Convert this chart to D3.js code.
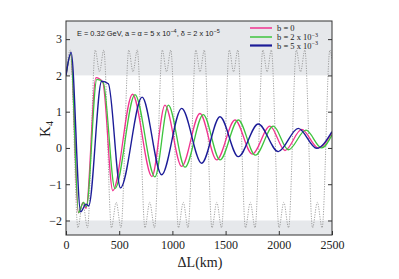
<!DOCTYPE html>
<html lang="en">
<head>
    <meta charset="UTF-8">
    <title>K4 vs baseline</title>
    <script src="https://cdnjs.cloudflare.com/ajax/libs/d3/7.8.5/d3.min.js"></script>
</head>
<style>
    body { margin: 0; background: #fff; }
    .tick text { font-family: "Liberation Serif", "Times New Roman", serif; font-size: 12px; fill: #222; }
    .tick line { stroke: #333; }
    .domain { display: none; }
</style>
<body>
    <svg id="chart" width="399" height="279"></svg>
</body>
<script>
    // values (L in km, K4)
    const xTicks = [0, 500, 1000, 1500, 2000, 2500];
    const yTicks = [-2, -1, 0, 1, 2, 3];
    const yTickLabels = ["\u22122", "\u22121", "0", "1", "2", "3"];

    // dotted grey curve: extrema only (M tops, W bottoms)
    const dottedL = [0, 40, 112, 157, 202, 275, 315, 355, 427, 472, 517, 590, 630, 670, 742, 787, 832,
        905, 945, 985, 1057, 1102, 1147, 1220, 1260, 1300, 1372, 1417, 1462, 1535, 1575, 1615,
        1687, 1732, 1777, 1850, 1890, 1930, 2002, 2047, 2092, 2165, 2205, 2245, 2317, 2362, 2407, 2480, 2500];
    const dottedK = [2.0, 2.7, -2.2, -1.5, -2.2, 2.7, 2.1, 2.7, -2.2, -1.5, -2.2, 2.7, 2.1, 2.7, -2.2, -1.5, -2.2,
        2.7, 2.1, 2.7, -2.2, -1.5, -2.2, 2.7, 2.1, 2.7, -2.2, -1.5, -2.2, 2.7, 2.1, 2.7,
        -2.2, -1.5, -2.2, 2.7, 2.1, 2.7, -2.2, -1.5, -2.2, 2.7, 2.1, 2.7, -2.2, -1.5, -2.2, 2.7, 2.45];

    // b = 0
    const pinkL = [0, 45, 116, 163, 188, 282, 345, 440, 625, 808, 930, 1087, 1259, 1416, 1588, 1750, 1917, 2058, 2215, 2371, 2500];
    const pinkK = [2.0, 2.58, -1.79, -1.5, -1.67, 1.94, 1.82, -1.18, 1.48, -0.79, 1.18, -0.51, 0.95, -0.33, 0.77, -0.17, 0.6, -0.07, 0.51, 0.0, 0.42];
    // b = 2e-3
    const greenL = [0, 45, 118, 165, 192, 290, 350, 460, 648, 836, 962, 1118, 1290, 1447, 1619, 1780, 1948, 2090, 2255, 2403, 2500];
    const greenK = [2.0, 2.58, -1.78, -1.5, -1.62, 1.89, 1.8, -1.12, 1.47, -0.8, 1.18, -0.53, 0.92, -0.33, 0.77, -0.2, 0.6, -0.05, 0.49, 0.0, 0.36];
    // b = 5e-3
    const blueL = [0, 48, 138, 188, 213, 335, 398, 512, 715, 899, 1087, 1275, 1447, 1619, 1807, 1995, 2183, 2356, 2500];
    const blueK = [2.0, 2.63, -1.76, -1.55, -1.6, 1.84, 1.77, -1.1, 1.4, -0.74, 1.09, -0.42, 0.86, -0.24, 0.66, -0.1, 0.54, -0.01, 0.45];

    const seriesNames = ["b = 0", "b = 2 x 10", "b = 5 x 10"];
    const seriesExp = ["", "\u22123", "\u22123"];
    const seriesColors = ["#f0338f", "#3ec43e", "#1c1c98"];
    const seriesWidths = [1.3, 1.3, 1.4];

    const mLeft = 66, mRight = 332, mTop = 21, mBottom = 235;
    const svg = d3.select("#chart");

    const x = d3.scaleLinear().domain([0, 2500]).range([mLeft, mRight]);
    const y = d3.scaleLinear().domain([-2.4, 3.5]).range([mBottom, mTop]);

    svg.append("clipPath").attr("id", "clip")
        .append("rect").attr("x", mLeft).attr("y", mTop).attr("width", mRight - mLeft).attr("height", mBottom - mTop);

    // grey bands outside |K4| <= 2
    svg.append("rect").attr("x", mLeft).attr("y", mTop).attr("width", mRight - mLeft)
        .attr("height", y(2) - mTop).style("fill", "#e6e8eb");
    svg.append("rect").attr("x", mLeft).attr("y", y(-2)).attr("width", mRight - mLeft)
        .attr("height", mBottom - y(-2)).style("fill", "#e6e8eb");

    const plot = svg.append("g").attr("clip-path", "url(#clip)");

    const line = d3.line().x(d => x(d[0])).y(d => y(d[1])).curve(d3.curveMonotoneX);

    plot.append("path")
        .datum(d3.zip(dottedL, dottedK))
        .attr("d", line)
        .style("fill", "none")
        .style("stroke", "#8a8a8a")
        .style("stroke-width", 0.8)
        .style("stroke-dasharray", "1.2,1.3");

    const allL = [pinkL, greenL, blueL];
    const allK = [pinkK, greenK, blueK];
    allL.forEach((Ls, i) => {
        plot.append("path")
            .datum(d3.zip(Ls, allK[i]))
            .attr("d", line)
            .style("fill", "none")
            .style("stroke", seriesColors[i])
            .style("stroke-width", seriesWidths[i]);
    });

    // axes, ticks pointing in
    svg.append("g").attr("transform", `translate(0,${mBottom})`)
        .call(d3.axisBottom(x).tickValues(xTicks).tickSizeInner(-4).tickPadding(5).tickFormat(d3.format("d")));
    svg.append("g").attr("transform", `translate(${mLeft},0)`)
        .call(d3.axisLeft(y).tickValues(yTicks).tickSizeInner(-4).tickPadding(4).tickFormat((d, i) => yTickLabels[i]));
    svg.append("g").attr("transform", `translate(${mRight},0)`)
        .call(d3.axisRight(y).tickValues(yTicks).tickSizeInner(-4).tickFormat(""));

    svg.append("rect").attr("x", mLeft).attr("y", mTop).attr("width", mRight - mLeft).attr("height", mBottom - mTop)
        .style("fill", "none").style("stroke", "#333").style("stroke-width", 1);

    // axis titles
    svg.append("text")
        .attr("x", 200).attr("y", 267)
        .attr("text-anchor", "middle")
        .style("font-family", "Liberation Serif, serif").style("font-size", "14px").style("fill", "#222")
        .text("\u0394L(km)");
    const yl = svg.append("text")
        .attr("transform", "translate(50,129) rotate(-90)")
        .attr("text-anchor", "middle")
        .style("font-family", "Liberation Serif, serif").style("font-size", "15px").style("fill", "#222");
    yl.append("tspan").text("K");
    yl.append("tspan").attr("dy", 3).style("font-size", "10px").text("4");

    // parameter note
    const note = svg.append("text")
        .attr("x", 77).attr("y", 36)
        .style("font-family", "Liberation Sans, Arial, sans-serif").style("font-size", "7.4px").style("fill", "#222");
    note.append("tspan").text("E = 0.32 GeV, a = \u03b1 = 5 x 10");
    note.append("tspan").attr("dy", -3).style("font-size", "5.5px").text("\u22124");
    note.append("tspan").attr("dy", 3).text(", \u03b4 = 2 x 10");
    note.append("tspan").attr("dy", -3).style("font-size", "5.5px").text("\u22125");

    // legend
    const legendY = [28, 37, 45.5];
    seriesNames.forEach((name, i) => {
        svg.append("line")
            .attr("x1", 250).attr("x2", 272).attr("y1", legendY[i]).attr("y2", legendY[i])
            .style("stroke", seriesColors[i]).style("stroke-width", i === 2 ? 2.2 : 1.5);
        const t = svg.append("text")
            .attr("x", 277).attr("y", legendY[i] + 3)
            .style("font-family", "Liberation Serif, serif").style("font-size", "8.5px").style("fill", "#222");
        t.append("tspan").text(name);
        if (seriesExp[i]) t.append("tspan").attr("dy", -3.5).style("font-size", "6px").text(seriesExp[i]);
    });
</script>
</html>
